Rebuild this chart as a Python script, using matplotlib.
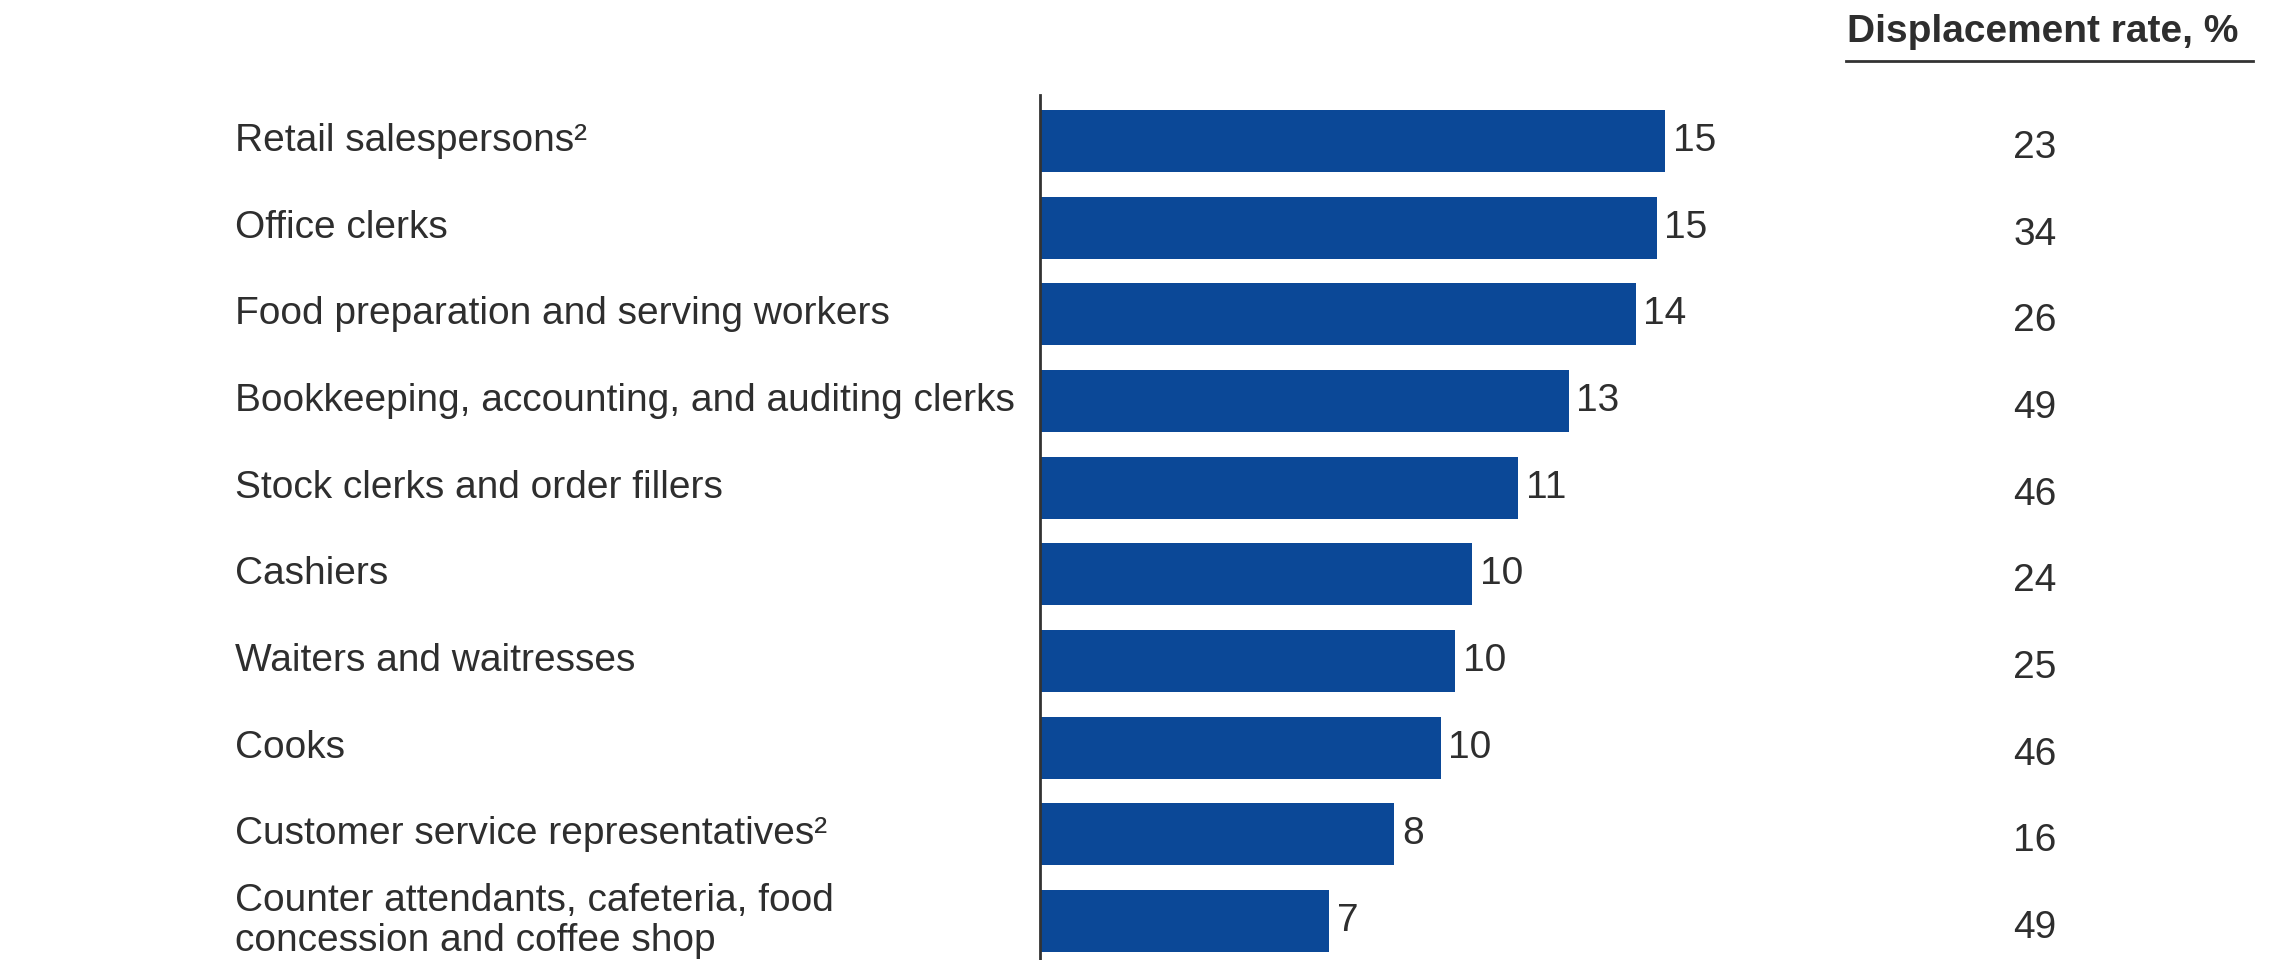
import matplotlib
matplotlib.use('Agg')
import matplotlib.pyplot as plt
import matplotlib.transforms as mtransforms

plt.rcParams['font.family'] = ['Liberation Sans', 'DejaVu Sans']

# 数据
occupations = [
    'Retail salespersons²',
    'Office clerks',
    'Food preparation and serving workers',
    'Bookkeeping, accounting, and auditing clerks',
    'Stock clerks and order fillers',
    'Cashiers',
    'Waiters and waitresses',
    'Cooks',
    'Customer service representatives²',
    'Counter attendants, cafeteria, food\nconcession and coffee shop',
]
bar_values = [14.9, 14.7, 14.2, 12.6, 11.4, 10.3, 9.9, 9.55, 8.45, 6.9]
bar_labels = ['15', '15', '14', '13', '11', '10', '10', '10', '8', '7']
displacement_rate = [23, 34, 26, 49, 46, 24, 25, 46, 16, 49]

BAR_COLOR = '#0b4897'
TEXT_COLOR = '#2e2e2e'
FS = 28

W, H = 2279, 960
fig = plt.figure(figsize=(W / 100, H / 100), dpi=100)
ax = fig.add_axes([1040 / W, 0, 1 - 1040 / W, (960 - 95) / H])

ypos = list(range(len(occupations)))
ax.barh(ypos, bar_values, height=0.715, color=BAR_COLOR, zorder=2)
ax.set_xlim(0, (W - 1040) / 41.95)
ax.set_ylim(9.45, -0.53)

# 坐标轴：只保留左边竖线
for side in ['top', 'right', 'bottom']:
    ax.spines[side].set_visible(False)
ax.spines['left'].set_color('#333333')
ax.spines['left'].set_linewidth(2)
ax.set_xticks([])
ax.set_yticks([])

# 柱末数值
for y, v, lab in zip(ypos, bar_values, bar_labels):
    ax.text(v + 0.18, y, lab, va='center', ha='left', fontsize=FS, color=TEXT_COLOR)

# 左侧类别标签 / 右侧 displacement rate
trans = mtransforms.blended_transform_factory(fig.transFigure, ax.transData)
for y, name, rate in zip(ypos, occupations, displacement_rate):
    ax.text(235 / W, y, name, transform=trans, va='center', ha='left',
            fontsize=FS, color=TEXT_COLOR, linespacing=1.15)
    ax.text(2035 / W, y + 0.08, str(rate), transform=trans, va='center', ha='center',
            fontsize=FS, color=TEXT_COLOR)

# 右上表头 + 下划线
fig.text(2043 / W, 1 - 32 / H, 'Displacement rate, %', ha='center', va='center',
         fontsize=FS, fontweight='bold', color=TEXT_COLOR)
fig.add_artist(plt.Line2D([1846 / W, 2253 / W], [1 - 61 / H, 1 - 61 / H],
                          color='#333333', lw=2, transform=fig.transFigure))

fig.savefig('out.png', dpi=100, facecolor='white')
